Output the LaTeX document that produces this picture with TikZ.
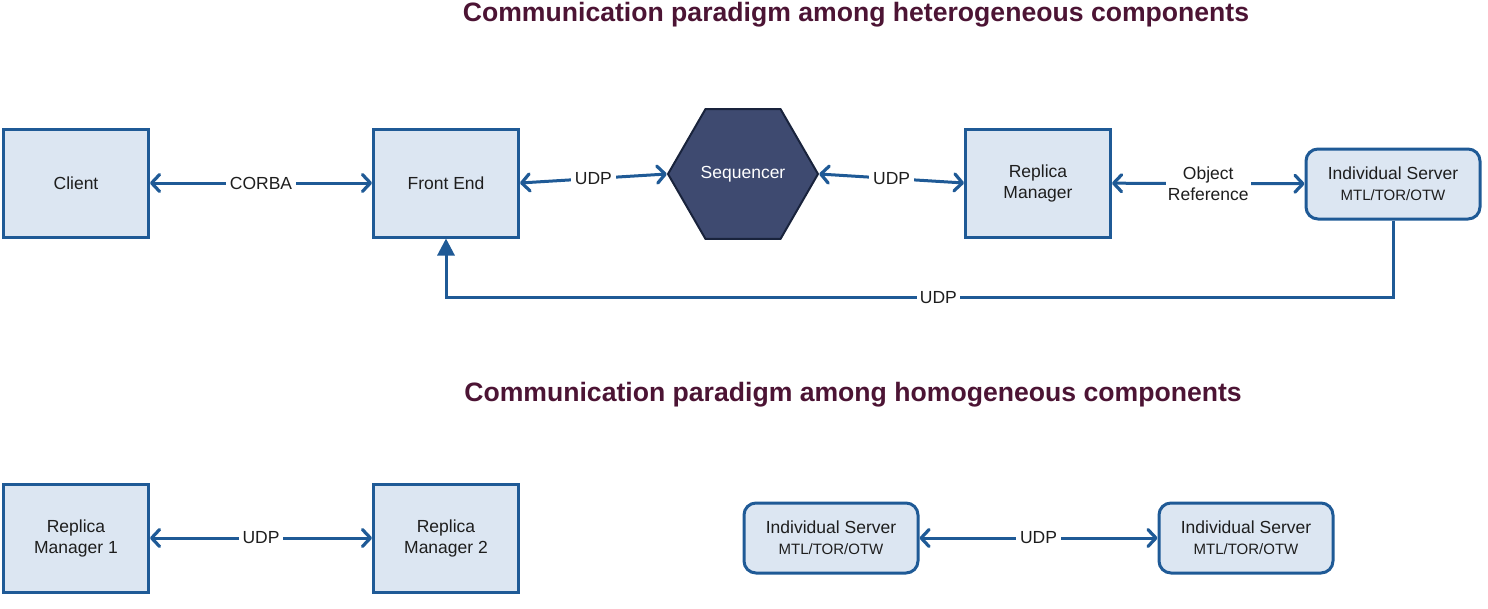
\documentclass[tikz,border=0pt]{standalone}
\usepackage{fontspec}
\setmainfont{Liberation Sans}
\usetikzlibrary{arrows.meta,shapes.geometric}
\definecolor{bluel}{RGB}{31,90,150}
\definecolor{boxfill}{RGB}{220,230,242}
\definecolor{seqfill}{RGB}{62,74,112}
\definecolor{seqline}{RGB}{25,35,60}
\definecolor{titlec}{RGB}{76,20,52}
\definecolor{txt}{RGB}{30,30,30}
\begin{document}
\begin{tikzpicture}[x=1pt,y=-1pt,
  bodyfont/.style={font=\fontsize{17.5}{21}\selectfont},
  sqbox/.style={draw=bluel, fill=boxfill, line width=3pt, minimum width=145pt, minimum height=108pt, inner sep=0pt, align=center, text=txt, bodyfont},
  srvbox/.style={draw=bluel, fill=boxfill, line width=3pt, rounded corners=12pt, minimum width=174pt, minimum height=70pt, inner sep=0pt, align=center, text=txt, bodyfont},
  seqbox/.style={shape=regular polygon, regular polygon sides=6, minimum size=150pt, inner sep=0pt, fill=seqfill, draw=seqline, line width=2pt, text=white, bodyfont},
  conn/.style={draw=bluel, line width=3pt, {Straight Barb[length=8pt,width=17pt,line width=3.2pt,round]}-{Straight Barb[length=8pt,width=17pt,line width=3.2pt,round]}},
  backconn/.style={draw=bluel, line width=3pt, -{Triangle[length=17pt,width=17pt]}},
  lbl/.style={fill=white, inner sep=4pt, text=txt, align=center, bodyfont},
  ttl/.style={text=titlec, font=\bfseries\fontsize{26.6}{31}\selectfont}
]
\useasboundingbox (0,0) rectangle (1488,608);
\newcommand{\smalltxt}[1]{{\fontsize{15}{18}\selectfont #1}}

\node[ttl] (t1) at (856,15) {Communication paradigm among heterogeneous components};
\node[ttl] (t2) at (853,395) {Communication paradigm among homogeneous components};

% top row
\node[sqbox] (client) at (76,183) {Client};
\node[sqbox] (fe) at (446,183) {Front End};
\node[seqbox] (seq) at (743,174) {Sequencer};
\node[sqbox] (rm) at (1038,183) {Replica\\Manager};
\node[srvbox] (is) at (1393,184) {Individual Server\\\smalltxt{MTL/TOR/OTW}};

\draw[conn] (client) -- node[lbl] {CORBA} (fe);
\draw[conn] (fe.east) -- node[lbl] {UDP} (seq.west);
\draw[conn] (seq.east) -- node[lbl] {UDP} (rm.west);
\draw[conn] (rm) -- node[lbl, inner sep=2pt] {Object\\Reference} (is);
\draw[backconn] (is.south) -- ++(0,77) -| node[lbl, pos=0.24, inner sep=3pt] {UDP} (fe.south);

% bottom row
\node[sqbox] (rm1) at (76,538) {Replica\\Manager 1};
\node[sqbox] (rm2) at (446,538) {Replica\\Manager 2};
\node[srvbox] (is1) at (831,538) {Individual Server\\\smalltxt{MTL/TOR/OTW}};
\node[srvbox] (is2) at (1246,538) {Individual Server\\\smalltxt{MTL/TOR/OTW}};

\draw[conn] (rm1) -- node[lbl] {UDP} (rm2);
\draw[conn] (is1) -- node[lbl] {UDP} (is2);
\end{tikzpicture}
\end{document}
